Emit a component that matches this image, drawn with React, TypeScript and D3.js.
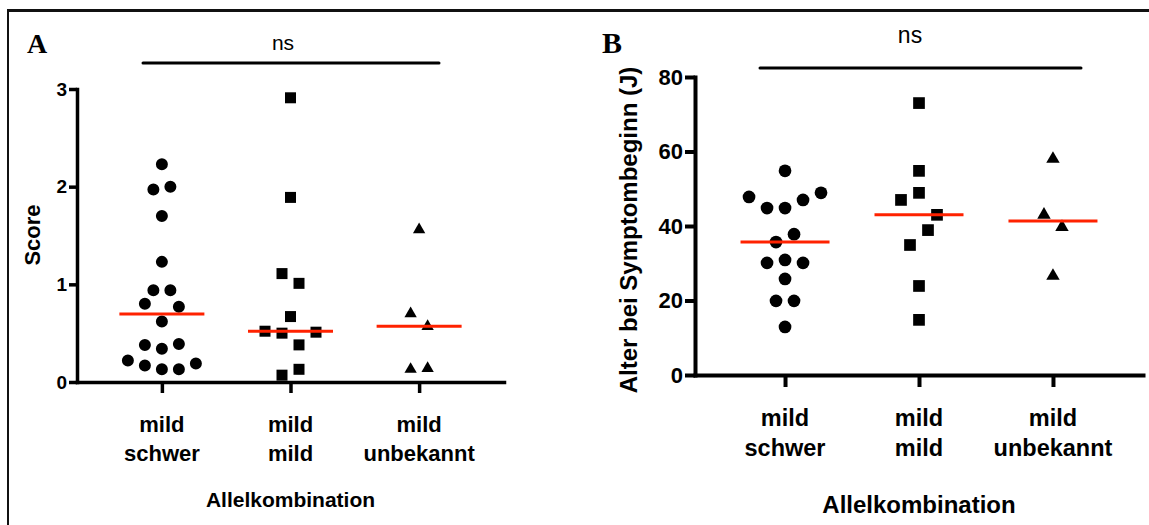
import React, { useEffect, useRef } from "react";
import * as d3 from "d3";

const FONT = "'Liberation Sans', Arial, Helvetica, sans-serif";
const SERIF = "'Liberation Serif', 'Times New Roman', serif";

// categories (two-line labels)
const categories = ["mild schwer", "mild mild", "mild unbekannt"];
const categoryLines = [
  ["mild", "schwer"],
  ["mild", "mild"],
  ["mild", "unbekannt"],
];

// Panel A – Score (values grouped in rows, left to right as plotted)
const scoreMildSchwer = [
  [2.23], [1.97, 2.0], [1.7], [1.23], [0.94, 0.94], [0.8, 0.62, 0.77],
  [0.38, 0.34, 0.39], [0.22, 0.17, 0.13, 0.13, 0.19],
];
const scoreMildMild = [
  [2.91], [1.89], [1.11, 1.01], [0.67], [0.52, 0.5, 0.38, 0.51], [0.07, 0.13],
];
const scoreMildUnbekannt = [[1.56], [0.7, 0.57], [0.13, 0.14]];
const scoreTicks = [0, 1, 2, 3];

// Panel B – Alter bei Symptombeginn (J)
const ageMildSchwer = [
  [54.8], [47.8, 44.8, 44.8, 47.0, 48.9], [35.7, 37.8], [30.1, 30.9, 30.1],
  [25.8], [19.9, 19.9], [12.9],
];
const ageMildMild = [
  [73.0], [54.8], [47.0, 48.9, 43.0], [34.9, 38.9], [23.9], [14.8],
];
const ageMildUnbekannt = [[58.0], [43.0, 39.7], [26.6]];
const ageTicks = [0, 20, 40, 60, 80];

const symbolTypes = [d3.symbolCircle, d3.symbolSquare, d3.symbolTriangle];

const panelA = {
  letter: "A", yTitle: "Score", xTitle: "Allelkombination",
  groups: [scoreMildSchwer, scoreMildMild, scoreMildUnbekannt],
  max: 3, ticks: scoreTicks,
  x0: 77, x1: 504, pad: 0.66, yTop: 89, yBottom: 382,
  tickLen: 8, tickPad: 2, tickFont: 19, axisW: 3.5, xTickLen: 11,
  spacing: 17, symSizes: [113, 121, 66], halfW: 42.5,
  nsX0: 143, nsX1: 439, nsY: 63, nsTextX: 283, nsTextY: 50, nsFont: 21,
  letterX: 27, letterY: 53, letterFont: 28,
  catFont: 22, catY1: 432, catY2: 461,
  titleFont: 21, titleY: 507,
  yTitleX: 40, yTitleY: 235, yTitleFont: 22,
};

const panelB = {
  letter: "B", yTitle: "Alter bei Symptombeginn (J)", xTitle: "Allelkombination",
  groups: [ageMildSchwer, ageMildMild, ageMildUnbekannt],
  max: 80, ticks: ageTicks,
  x0: 695, x1: 1143, pad: 0.672, yTop: 77, yBottom: 375,
  tickLen: 10, tickPad: 2, tickFont: 22, axisW: 4, xTickLen: 12,
  spacing: 18, symSizes: [127, 137, 78], halfW: 44.5,
  nsX0: 760, nsX1: 1081, nsY: 68, nsTextX: 910, nsTextY: 43, nsFont: 23,
  letterX: 602, letterY: 53, letterFont: 30,
  catFont: 23.5, catY1: 426, catY2: 456,
  titleFont: 24, titleY: 513,
  yTitleX: 637, yTitleY: 230, yTitleFont: 24,
};

function Panel({ cfg }: { cfg: any }) {
  const ref = useRef<SVGGElement>(null);
  useEffect(() => {
    const g = d3.select(ref.current);
    g.selectAll("*").remove();
    const y = d3.scaleLinear().domain([0, cfg.max]).range([cfg.yBottom, cfg.yTop]);
    const x = d3.scalePoint<string>().domain(categories).range([cfg.x0, cfg.x1]).padding(cfg.pad);

    // y axis
    const ya = g.append("g").attr("transform", `translate(${cfg.x0},0)`)
      .call(d3.axisLeft(y).tickValues(cfg.ticks).tickSize(cfg.tickLen).tickSizeOuter(0)
        .tickPadding(cfg.tickPad).tickFormat(d3.format("d")));
    ya.select(".domain").attr("stroke", "#000").attr("stroke-width", cfg.axisW).attr("stroke-linecap", "square");
    ya.selectAll(".tick line").attr("stroke", "#000").attr("stroke-width", cfg.axisW);
    ya.selectAll(".tick text").attr("font-family", FONT).attr("font-weight", 700)
      .attr("font-size", cfg.tickFont).attr("fill", "#000");

    // x axis
    const xa = g.append("g").attr("transform", `translate(0,${cfg.yBottom})`)
      .call(d3.axisBottom(x).tickSize(cfg.xTickLen).tickSizeOuter(0).tickFormat(() => ""));
    xa.select(".domain").attr("stroke", "#000").attr("stroke-width", cfg.axisW).attr("stroke-linecap", "square");
    xa.selectAll(".tick line").attr("stroke", "#000").attr("stroke-width", cfg.axisW);

    // category labels
    categories.forEach((c, i) => {
      const t = g.append("text").attr("text-anchor", "middle").attr("font-family", FONT)
        .attr("font-weight", 700).attr("font-size", cfg.catFont).attr("fill", "#000");
      t.append("tspan").attr("x", x(c)!).attr("y", cfg.catY1).text(categoryLines[i][0]);
      t.append("tspan").attr("x", x(c)!).attr("y", cfg.catY2).text(categoryLines[i][1]);
    });

    // points and median lines
    cfg.groups.forEach((rows: number[][], gi: number) => {
      const cx = x(categories[gi])!;
      const sym = d3.symbol().type(symbolTypes[gi]).size(cfg.symSizes[gi]);
      rows.forEach((row) => {
        row.forEach((v, j) => {
          const off = (j - (row.length - 1) / 2) * cfg.spacing;
          g.append("path").attr("d", sym()!).attr("fill", "#000")
            .attr("transform", `translate(${cx + off},${y(v)})`);
        });
      });
      const med = d3.median(rows.flat())!;
      g.append("line").attr("x1", cx - cfg.halfW).attr("x2", cx + cfg.halfW)
        .attr("y1", y(med)).attr("y2", y(med)).attr("stroke", "#ff2200").attr("stroke-width", 3);
    });

    // ns bar
    g.append("line").attr("x1", cfg.nsX0).attr("x2", cfg.nsX1).attr("y1", cfg.nsY).attr("y2", cfg.nsY)
      .attr("stroke", "#000").attr("stroke-width", 3).attr("stroke-linecap", "round");
    g.append("text").attr("x", cfg.nsTextX).attr("y", cfg.nsTextY).attr("text-anchor", "middle")
      .attr("font-family", FONT).attr("font-size", cfg.nsFont).attr("fill", "#000").text("ns");

    // panel letter
    g.append("text").attr("x", cfg.letterX).attr("y", cfg.letterY).attr("font-family", SERIF)
      .attr("font-weight", 700).attr("font-size", cfg.letterFont).attr("fill", "#000").text(cfg.letter);

    // titles
    g.append("text").attr("x", (cfg.x0 + cfg.x1) / 2).attr("y", cfg.titleY).attr("text-anchor", "middle")
      .attr("font-family", FONT).attr("font-weight", 700).attr("font-size", cfg.titleFont)
      .attr("fill", "#000").text(cfg.xTitle);
    g.append("text").attr("transform", `translate(${cfg.yTitleX},${cfg.yTitleY}) rotate(-90)`)
      .attr("text-anchor", "middle").attr("font-family", FONT).attr("font-weight", 700)
      .attr("font-size", cfg.yTitleFont).attr("fill", "#000").text(cfg.yTitle);
  }, [cfg]);
  return <g ref={ref} />;
}

export default function App() {
  return (
    <svg width={1149} height={525} style={{ position: "absolute", left: 0, top: 0, background: "#fff" }}>
      <rect x={0} y={0} width={1149} height={525} fill="#fff" />
      <line x1={7} x2={1149} y1={10.5} y2={10.5} stroke="#111" strokeWidth={3} />
      <line x1={8} x2={8} y1={9} y2={525} stroke="#111" strokeWidth={2} />
      <Panel cfg={panelA} />
      <Panel cfg={panelB} />
    </svg>
  );
}
